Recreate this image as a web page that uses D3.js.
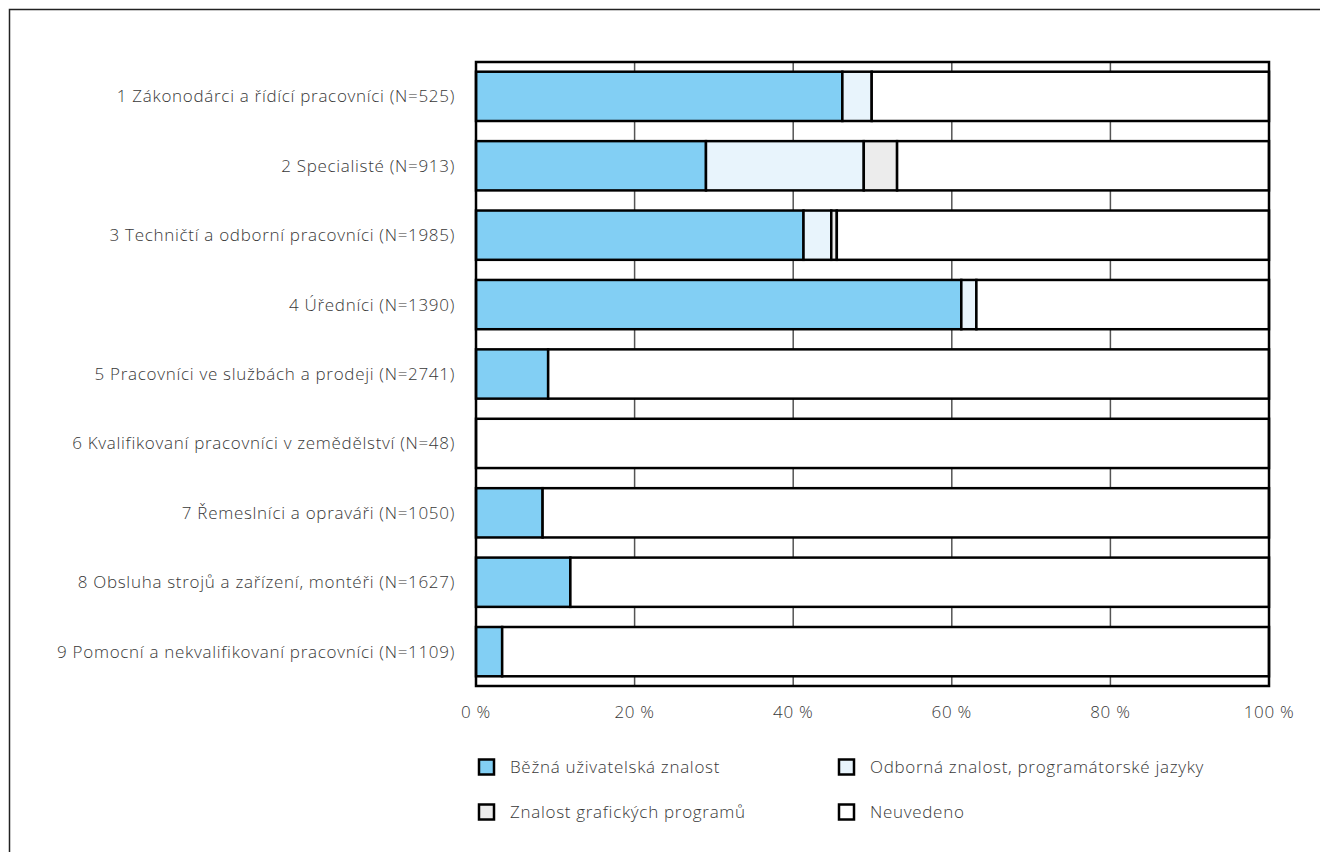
<!DOCTYPE html>
<html>
<head>
<meta charset="utf-8">
<script src="https://cdn.jsdelivr.net/npm/d3@7"></script>
<style>
  html, body { margin: 0; padding: 0; background: #fff; }
  svg { display: block; }
  text { font-family: "Open Sans", "Lato", sans-serif; font-weight: 300; fill: #383838; letter-spacing: 0.7px; }
</style>
</head>
<body>
<svg id="chart" width="1320" height="852"></svg>
<script>
const categories = [
  "1 Zákonodárci a řídící pracovníci (N=525)",
  "2 Specialisté (N=913)",
  "3 Techničtí a odborní pracovníci (N=1985)",
  "4 Úředníci (N=1390)",
  "5 Pracovníci ve službách a prodeji (N=2741)",
  "6 Kvalifikovaní pracovníci v zemědělství (N=48)",
  "7 Řemeslníci a opraváři (N=1050)",
  "8 Obsluha strojů a zařízení, montéři (N=1627)",
  "9 Pomocní a nekvalifikovaní pracovníci (N=1109)"
];
const seriesNames = [
  "Běžná uživatelská znalost",
  "Odborná znalost, programátorské jazyky",
  "Znalost grafických programů",
  "Neuvedeno"
];
const bezna     = [46.2, 29.0, 41.3, 61.2, 9.1, 0, 8.4, 11.9, 3.3];
const odborna   = [3.7, 19.9, 3.5, 1.9, 0, 0, 0, 0, 0];
const graficke  = [0, 4.2, 0.7, 0, 0, 0, 0, 0, 0];
const neuvedeno = categories.map((c, i) => +(100 - bezna[i] - odborna[i] - graficke[i]).toFixed(1));
const tickValues = [0, 20, 40, 60, 80, 100];
const tickLabels = ["0 %", "20 %", "40 %", "60 %", "80 %", "100 %"];

const colors = ["#82cff4", "#e8f4fc", "#ececec", "#ffffff"];

const svg = d3.select("#chart");

// outer frame (extends beyond the canvas on right and bottom)
svg.append("rect")
  .attr("x", 9.5).attr("y", 9.5).attr("width", 1400).attr("height", 900)
  .attr("fill", "none").attr("stroke", "#222").attr("stroke-width", 1.5);

const pLeft = 476, pRight = 1269, pTop = 62, pBottom = 686;

const x = d3.scaleLinear().domain([0, 100]).range([pLeft, pRight]);
const y = d3.scaleBand().domain(categories).range([pTop, pBottom])
  .paddingInner(0.29).paddingOuter(0.14);

// gridlines
svg.append("g").selectAll("line")
  .data(tickValues.filter(v => v > 0 && v < 100))
  .join("line")
  .attr("x1", d => x(d)).attr("x2", d => x(d))
  .attr("y1", pTop).attr("y2", pBottom)
  .attr("stroke", "#555").attr("stroke-width", 1.5);

// stacked data
const rows = categories.map((c, i) => ({
  cat: c, s0: bezna[i], s1: odborna[i], s2: graficke[i], s3: neuvedeno[i]
}));
const stack = d3.stack().keys(["s0", "s1", "s2", "s3"]);
const stacked = stack(rows);

const g = svg.append("g");
stacked.forEach((layer, li) => {
  g.append("g").selectAll("rect")
    .data(layer.filter(d => d[1] - d[0] > 0))
    .join("rect")
    .attr("x", d => x(d[0]))
    .attr("width", d => x(d[1]) - x(d[0]))
    .attr("y", d => y(d.data.cat))
    .attr("height", y.bandwidth())
    .attr("fill", colors[li])
    .attr("stroke", "#000")
    .attr("stroke-width", 2.5);
});

// plot frame
svg.append("rect")
  .attr("x", pLeft).attr("y", pTop).attr("width", pRight - pLeft).attr("height", pBottom - pTop)
  .attr("fill", "none").attr("stroke", "#000").attr("stroke-width", 2.5);

const fs = 17;

// category labels
svg.append("g").selectAll("text")
  .data(categories)
  .join("text")
  .attr("x", 455)
  .attr("y", d => y(d) + y.bandwidth() / 2)
  .attr("dy", "0.35em")
  .attr("text-anchor", "end")
  .attr("font-size", fs)
  .text(d => d);

// x tick labels
svg.append("g").selectAll("text")
  .data(tickValues)
  .join("text")
  .attr("x", d => x(d))
  .attr("y", 718)
  .attr("text-anchor", "middle")
  .attr("font-size", fs)
  .text((d, i) => tickLabels[i]);

// legend
const legendPos = [
  {mx: 478, ty: 767},
  {mx: 838, ty: 767},
  {mx: 478, ty: 812},
  {mx: 838, ty: 812}
];
const lg = svg.append("g");
seriesNames.forEach((name, i) => {
  const p = legendPos[i];
  lg.append("rect")
    .attr("x", p.mx + 1).attr("y", p.ty - 7.5)
    .attr("width", 15).attr("height", 15)
    .attr("fill", colors[i]).attr("stroke", "#000").attr("stroke-width", 2.5);
  lg.append("text")
    .attr("x", p.mx + 32).attr("y", p.ty)
    .attr("dy", "0.35em")
    .attr("font-size", fs)
    .text(name);
});
</script>
</body>
</html>
